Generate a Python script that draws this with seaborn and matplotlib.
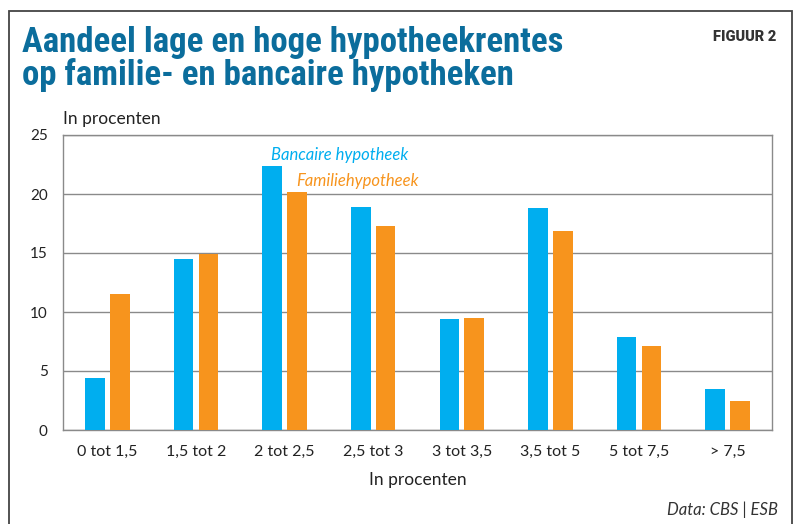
import matplotlib
matplotlib.use("Agg")
import matplotlib.pyplot as plt
import seaborn as sns
import pandas as pd
from matplotlib.patches import Rectangle

# data
categories = ["0 tot 1,5", "1,5 tot 2", "2 tot 2,5", "2,5 tot 3",
              "3 tot 3,5", "3,5 tot 5", "5 tot 7,5", "> 7,5"]
bancair = [4.4, 14.5, 22.4, 18.9, 9.4, 18.8, 7.9, 3.5]
familie = [11.5, 14.9, 20.2, 17.3, 9.5, 16.9, 7.1, 2.5]
series_names = ["Bancaire hypotheek", "Familiehypotheek"]
y_ticks = [0, 5, 10, 15, 20, 25]

BLUE = "#00AEEF"
ORANGE = "#F7941D"
TITLE = "#0B6D9C"
GRID = "#8a8a8a"

df = pd.DataFrame({
    "cat": categories * 2,
    "value": bancair + familie,
    "serie": [series_names[0]] * len(categories) + [series_names[1]] * len(categories),
})

sns.set_theme(style="white")
plt.rcParams["font.family"] = ["Lato", "DejaVu Sans"]

W, H = 798, 524
fig = plt.figure(figsize=(W / 100, H / 100), dpi=100)
ax = fig.add_axes([63 / W, 1 - 430 / H, (772 - 63) / W, (430 - 135) / H])

sns.barplot(data=df, x="cat", y="value", hue="serie", order=categories,
            palette=[BLUE, ORANGE], width=0.56, gap=0.21, ax=ax,
            legend=False, saturation=1, edgecolor="none", zorder=3)

ax.set_xlim(-0.5, len(categories) - 0.5)
ax.set_ylim(0, 25)
ax.set_yticks(y_ticks)
ax.set_yticklabels([str(t) for t in y_ticks], fontsize=11, color="#222222")
ax.yaxis.grid(True, color=GRID, linewidth=1, zorder=0)
ax.set_axisbelow(True)
for s in ax.spines.values():
    s.set_color(GRID)
    s.set_linewidth(1)

# x ticks sit between the categories, labels centred
ax.set_xticks([i + 0.5 for i in range(-1, len(categories))], minor=False)
ax.set_xticklabels([])
ax.set_xticks(range(len(categories)), minor=True)
ax.set_xticklabels(categories, minor=True, fontsize=11.5, color="#222222")
ax.tick_params(axis="x", which="major", length=8, color=GRID, width=1, direction="out")
ax.tick_params(axis="x", which="minor", length=0, pad=11)
ax.tick_params(axis="y", length=7, color=GRID, width=1, pad=4)
ax.set_xlabel("In procenten", fontsize=12.5, color="#222222", labelpad=9)
ax.set_ylabel("")

ax.text(1.85, 23.3, series_names[0], color=BLUE, fontsize=12, style="italic",
        va="center", ha="left")
ax.text(2.13, 21.1, series_names[1], color=ORANGE, fontsize=12, style="italic",
        va="center", ha="left")

# frame around the whole figure
fig.patches.append(Rectangle((9 / W, -0.05), (792 - 9) / W, 1.05 - 11 / H,
                             transform=fig.transFigure, fill=False,
                             edgecolor="#444444", linewidth=1.3))

fig.text(22 / W, 1 - 26 / H, "Aandeel lage en hoge hypotheekrentes\nop familie- en bancaire hypotheken",
         color=TITLE, fontsize=25, fontweight="bold", va="top", ha="left",
         linespacing=0.97, family=["Roboto Condensed", "Roboto"])
fig.text(776 / W, 1 - 37 / H, "FIGUUR 2", color="#333333", fontsize=10.5,
         fontweight="black", va="center", ha="right", family=["Roboto", "Lato"])
fig.text(63 / W, 1 - 119 / H, "In procenten", color="#222222", fontsize=12.5,
         va="center", ha="left")
fig.text(778 / W, 1 - 510 / H, "Data: CBS | ESB", color="#333333", fontsize=12,
         style="italic", va="center", ha="right")

fig.savefig("out.png", dpi=100)
